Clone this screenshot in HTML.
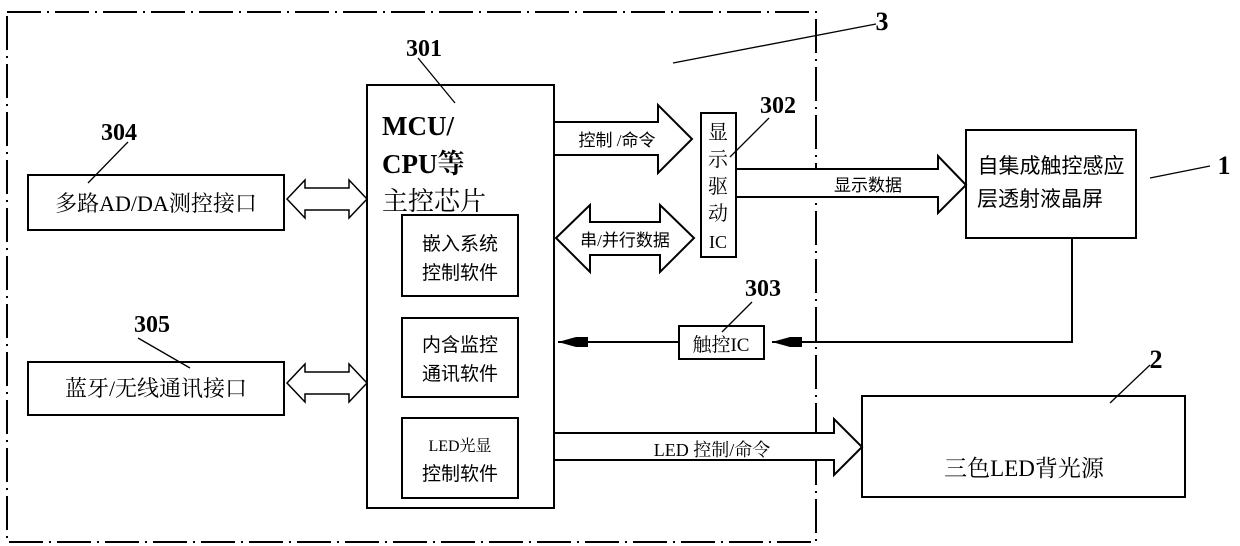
<!DOCTYPE html>
<html><head><meta charset="utf-8"><style>
html,body{margin:0;padding:0;background:#fff;}
svg{display:block;}
text{font-family:"Liberation Serif","Noto Serif CJK SC","Noto Sans CJK SC",serif;fill:#000;}
.s{font-family:"Liberation Serif","Noto Sans CJK SC",sans-serif;}
.b{font-weight:bold;}
</style></head><body>
<svg width="1240" height="546" viewBox="0 0 1240 546" xmlns="http://www.w3.org/2000/svg">
<g fill="none" stroke="#000" stroke-width="2">
<rect x="7" y="12" width="809" height="530" stroke-dasharray="34,6,2,6"/>
<rect x="367" y="85" width="187" height="423"/>
<rect x="402" y="215" width="116" height="81"/>
<rect x="402" y="318" width="116" height="79"/>
<rect x="402" y="418" width="116" height="80"/>
<rect x="28" y="175" width="256" height="55"/>
<rect x="28" y="362" width="256" height="53"/>
<polygon points="287,199 305,180 305,188 349,188 349,180 367,199 349,218 349,210 305,210 305,218" stroke-width="1.5"/>
<polygon points="287,383 305,364 305,372 349,372 349,364 367,383 349,402 349,394 305,394 305,402" stroke-width="1.5"/>
<polygon points="554,122 658,122 658,105 692,139 658,173 658,155 554,155" fill="#fff"/>
<polygon points="556,238 590,205 590,222 660,222 660,205 694,238 660,272 660,255 590,255 590,272" fill="#fff"/>
<rect x="701" y="113" width="35" height="144"/>
<polygon points="736,169 938,169 938,156 966,185 938,213 938,197 736,197" fill="#fff"/>
<rect x="966" y="130" width="170" height="108"/>
<rect x="679" y="326" width="85" height="33"/>
<polyline points="1072,238 1072,342 772,342"/>
<line x1="679" y1="342" x2="558" y2="342"/>
<polygon points="554,433 834,433 834,419 862,447 834,475 834,460 554,460" fill="#fff"/>
<rect x="862" y="396" width="323" height="101"/>
<g stroke-width="1.3">
<line x1="876" y1="24" x2="673" y2="63"/>
<line x1="418" y1="58" x2="455" y2="103"/>
<line x1="769" y1="118" x2="730" y2="157"/>
<line x1="752" y1="302" x2="722" y2="332"/>
<line x1="128" y1="142" x2="88" y2="183"/>
<line x1="138" y1="338" x2="190" y2="368"/>
<line x1="1210" y1="166" x2="1150" y2="178"/>
<line x1="1150" y1="365" x2="1110" y2="403"/>
</g>
</g>
<polygon points="772,342 790,337 802,337 802,347 790,347" fill="#000"/>
<polygon points="558,342 576,337 588,337 588,347 576,347" fill="#000"/>
<g class="b" font-size="24" text-anchor="middle">
<text x="424" y="56">301</text>
<text x="778" y="113">302</text>
<text x="763" y="296">303</text>
<text x="119" y="140">304</text>
<text x="152" y="332">305</text>
<text x="882" y="30" font-size="26">3</text>
<text x="1224" y="174" font-size="26">1</text>
<text x="1156" y="368" font-size="26">2</text>
</g>
<text x="382" y="135" font-size="27" class="b">MCU/</text>
<text x="382" y="173" font-size="27" class="b">CPU等</text>
<text x="382" y="210" font-size="26">主控芯片</text>
<text x="460" y="250" font-size="19" text-anchor="middle" class="s">嵌入系统</text>
<text x="460" y="279" font-size="19" text-anchor="middle" class="s">控制软件</text>
<text x="460" y="351" font-size="19" text-anchor="middle" class="s">内含监控</text>
<text x="460" y="380" font-size="19" text-anchor="middle" class="s">通讯软件</text>
<text x="460" y="451" font-size="16" text-anchor="middle">LED光显</text>
<text x="460" y="480" font-size="19" text-anchor="middle" class="s">控制软件</text>
<text x="156" y="211" font-size="22" text-anchor="middle">多路AD/DA测控接口</text>
<text x="156" y="396" font-size="22" text-anchor="middle">蓝牙/无线通讯接口</text>
<text x="617" y="146" font-size="17" text-anchor="middle" class="s">控制 /命令</text>
<text x="625" y="246" font-size="17" text-anchor="middle" class="s">串/并行数据</text>
<g font-size="20" text-anchor="middle" class="s">
<text x="718" y="139">显</text><text x="718" y="166">示</text><text x="718" y="193">驱</text><text x="718" y="220">动</text><text x="718" y="248" font-size="18">IC</text>
</g>
<text x="868" y="191" font-size="17" text-anchor="middle" class="s">显示数据</text>
<text x="1051" y="173" font-size="21" text-anchor="middle" class="s">自集成触控感应</text>
<text x="1040" y="206" font-size="21" text-anchor="middle" class="s">层透射液晶屏</text>
<text x="721" y="351" font-size="19" text-anchor="middle">触控IC</text>
<text x="712" y="456" font-size="18" text-anchor="middle">LED 控制/命令</text>
<text x="1024" y="476" font-size="23" text-anchor="middle">三色LED背光源</text>
</svg>
</body></html>
